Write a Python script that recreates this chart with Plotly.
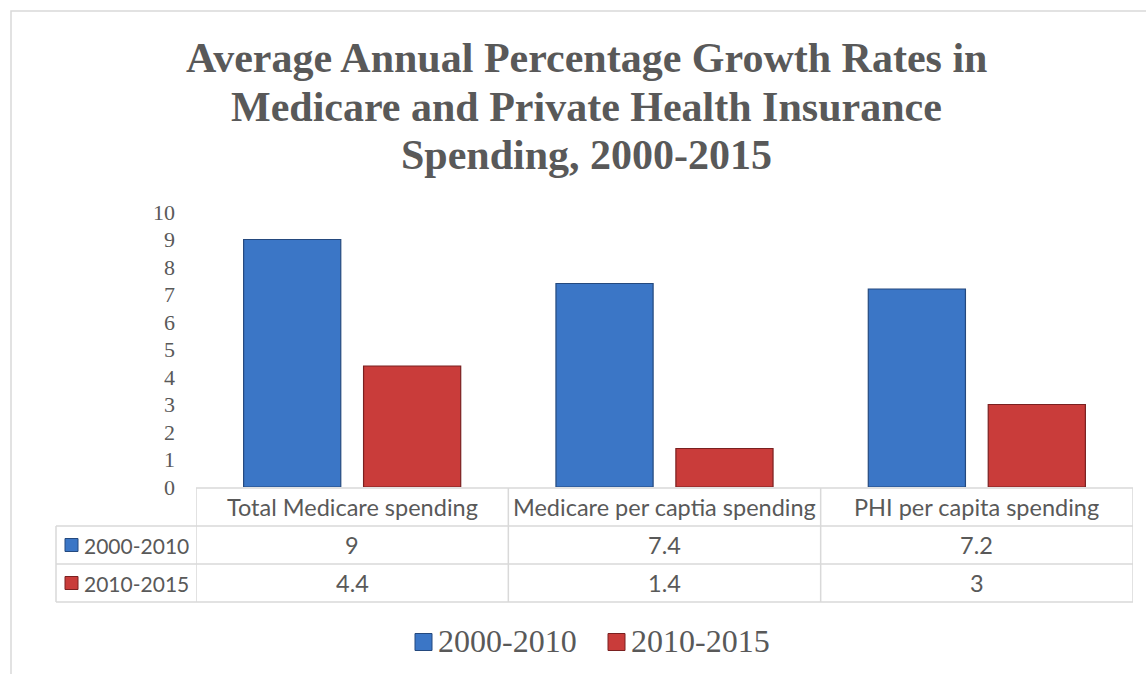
import plotly.graph_objects as go

categories = ["Total Medicare spending", "Medicare per captia spending", "PHI per capita spending"]
series_names = ["2000-2010", "2010-2015"]
values_2000_2010 = [9, 7.4, 7.2]
values_2010_2015 = [4.4, 1.4, 3]
title_lines = ["Average Annual Percentage Growth Rates in",
               "Medicare and Private Health Insurance",
               "Spending, 2000-2015"]
y_ticks = list(range(0, 11))

W, H = 1146, 674
L, R, T, B = 196, 13, 212, 187
PW = W - L - R
PH = H - T - B
BOT = H - B

def px(x):
    return (x - L) / PW

def py(y):
    return (BOT - y) / PH

TXT = "#595959"
GRID = "#d9d9d9"
BLUE = "#3b76c6"
BLUE_EDGE = "#24497e"
RED = "#c93c3a"
RED_EDGE = "#7a2020"
colors = [BLUE, RED]
edges = [BLUE_EDGE, RED_EDGE]
series_values = [values_2000_2010, values_2010_2015]

fig = go.Figure()
for name, vals, c, e in zip(series_names, series_values, colors, edges):
    fig.add_trace(go.Bar(
        x=categories, y=vals, name=name,
        marker=dict(color=c, line=dict(color=e, width=1.2)),
        hoverinfo="x+y+name", showlegend=False,
    ))

shapes = []
ln = dict(color=GRID, width=1.5)
# outer chart border
shapes.append(dict(type="rect", xref="paper", yref="paper",
                   x0=px(11), x1=px(W + 10), y0=py(11), y1=py(H + 10),
                   line=dict(color=GRID, width=1.5), fillcolor="rgba(0,0,0,0)", layer="below"))
# table horizontal lines
shapes.append(dict(type="line", xref="paper", yref="paper", x0=0, x1=1, y0=py(488), y1=py(488), line=ln))
for yy in (526, 564, 602):
    shapes.append(dict(type="line", xref="paper", yref="paper", x0=px(56), x1=1, y0=py(yy), y1=py(yy), line=ln))
# vertical lines
shapes.append(dict(type="line", xref="paper", yref="paper", x0=px(56), x1=px(56), y0=py(526), y1=py(602), line=ln))
for i in range(len(categories) + 1):
    shapes.append(dict(type="line", xref="x", yref="paper", x0=i - 0.5, x1=i - 0.5,
                       y0=py(488), y1=py(602), line=ln))

annotations = []
# title
for i, (line, yc) in enumerate(zip(title_lines, (58, 107, 155))):
    annotations.append(dict(text="<b>" + line + "</b>", xref="paper", yref="paper",
                            x=px(586), y=py(yc), xanchor="center", yanchor="middle",
                            showarrow=False, font=dict(family="Liberation Serif", size=42, color=TXT)))
TABLE_FONT = dict(family="Lato", size=23.5, color=TXT)
ROW_FONT = dict(family="Lato", size=21, color=TXT)
# header row
for cat in categories:
    annotations.append(dict(text=cat, xref="x", yref="paper", x=cat, y=py(507),
                            xanchor="center", yanchor="middle", showarrow=False, font=TABLE_FONT))
# data rows
row_centers = (545, 583)
for name, vals, c, e, yc in zip(series_names, series_values, colors, edges, row_centers):
    annotations.append(dict(text=name, xref="paper", yref="paper", x=px(82), y=py(yc),
                            xanchor="left", yanchor="middle", showarrow=False, font=ROW_FONT))
    shapes.append(dict(type="rect", xref="paper", yref="paper",
                       x0=px(65), x1=px(78), y0=py(yc - 6.5), y1=py(yc + 6.5),
                       fillcolor=c, line=dict(color=e, width=1)))
    for cat, v in zip(categories, vals):
        annotations.append(dict(text="{:g}".format(v), xref="x", yref="paper", x=cat, y=py(yc),
                                xanchor="center", yanchor="middle", showarrow=False, font=TABLE_FONT))

# legend (bottom), drawn as keys + labels
legend_keys_x = (415, 608)
LEG_Y = 642
for name, c, e, kx in zip(series_names, colors, edges, legend_keys_x):
    shapes.append(dict(type="rect", xref="paper", yref="paper",
                       x0=px(kx), x1=px(kx + 17), y0=py(LEG_Y - 8.5), y1=py(LEG_Y + 8.5),
                       fillcolor=c, line=dict(color=e, width=1)))
    annotations.append(dict(text=name, xref="paper", yref="paper", x=px(kx + 21), y=py(LEG_Y - 1),
                            xanchor="left", yanchor="middle", showarrow=False,
                            font=dict(family="Liberation Serif", size=32, color=TXT)))

fig.update_layout(
    width=W, height=H,
    margin=dict(l=L, r=R, t=T, b=B, pad=0),
    paper_bgcolor="white", plot_bgcolor="white",
    barmode="group", bargap=0.232, bargroupgap=0.19,
    showlegend=False,
    xaxis=dict(range=[-0.5, 2.5], showticklabels=False, showgrid=False, zeroline=False,
               showline=False, ticks="", fixedrange=True),
    yaxis=dict(range=[0, 10], tickvals=y_ticks, ticktext=[str(t) for t in y_ticks],
               showgrid=False, zeroline=False, showline=False, ticks="",
               ticklabelstandoff=20,
               tickfont=dict(family="Liberation Serif", size=22, color=TXT), fixedrange=True),
    shapes=shapes, annotations=annotations,
)

fig.write_html("out.html")
